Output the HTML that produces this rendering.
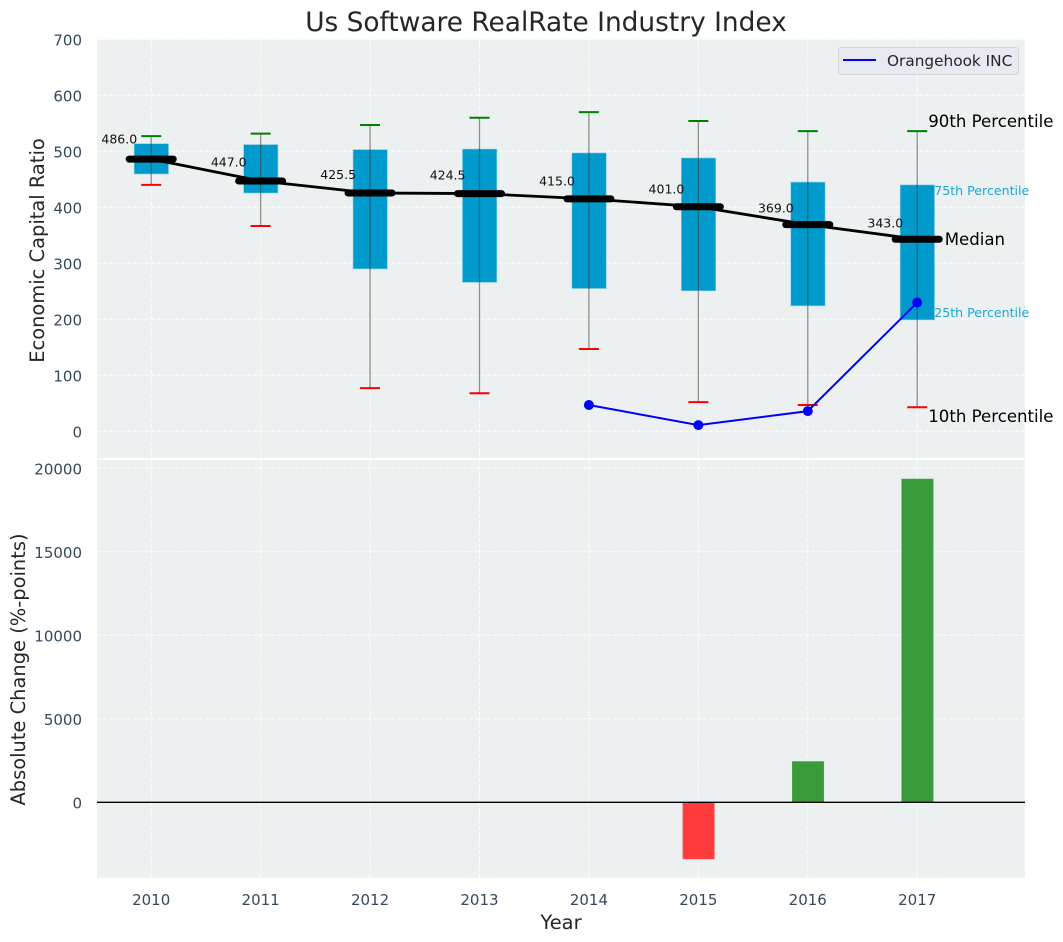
<!DOCTYPE html>
<html>
<head>
<meta charset="utf-8">
<title>Us Software RealRate Industry Index</title>
<style>
html,body{margin:0;padding:0;background:#fff;width:1063px;height:942px;overflow:hidden}
svg{display:block;font-family:"DejaVu Sans","Liberation Sans",sans-serif}
</style>
</head>
<body>
<svg id="chart" xmlns="http://www.w3.org/2000/svg" width="1063" height="942" viewBox="0 0 1063 942">
<rect x="97" y="39.5" width="928" height="418.6" fill="#ecf0f1"/>
<rect x="97" y="459.8" width="928" height="418" fill="#ecf0f1"/>
<text x="546" y="31" text-anchor="middle" font-size="26.4px" fill="#262626">Us Software RealRate Industry Index</text>
<text transform="translate(44,250.5) rotate(-90)" text-anchor="middle" font-size="19.45px" fill="#262626">Economic Capital Ratio</text>
<text transform="translate(25,669.5) rotate(-90)" text-anchor="middle" font-size="19.45px" fill="#262626">Absolute Change (%-points)</text>
<text x="561" y="929" text-anchor="middle" font-size="19.45px" fill="#262626">Year</text>
<g id="layer"></g>
<g>
<rect x="838.5" y="47.5" width="180" height="27" rx="3" fill="#e9e9f1" stroke="#d3d3d8" stroke-width="1"/>
<line x1="843" y1="60" x2="876" y2="60" stroke="#0000ff" stroke-width="2"/>
<text x="887" y="66" font-size="15.3px" fill="#262626">Orangehook INC</text>
</g>
</svg>
<script>
const years = [2010, 2011, 2012, 2013, 2014, 2015, 2016, 2017];
const p90 = [527, 531.5, 547, 560, 570, 554, 536, 536];
const p75 = [513.5, 512, 503, 504, 497, 488, 445, 440];
const medians = [486, 447, 425.5, 424.5, 415, 401, 369, 343];
const p25 = [459.5, 425.5, 290, 266, 255, 251, 224, 199];
const p10 = [440, 366.5, 77, 68, 147, 52, 47, 43];
const companyYears = [2014, 2015, 2016, 2017];
const companyValues = [47, 11, 36, 230];
const changeYears = [2015, 2016, 2017];
const changeValues = [-3395, 2443, 19360];
const topTicks = [0, 100, 200, 300, 400, 500, 600, 700];
const bottomTicks = [0, 5000, 10000, 15000, 20000];

const NS = 'http://www.w3.org/2000/svg';
const layer = document.getElementById('layer');
const xScale = v => 151.2 + (v - 2010) * 109.43;
const yTop = v => 431.3 - v * 0.56;
const yBottom = v => 802.3 - v * 0.0167;

function mk(tag, attrs, text) {
  const el = document.createElementNS(NS, tag);
  for (const k in attrs) el.setAttribute(k, attrs[k]);
  if (text !== undefined) el.textContent = text;
  layer.appendChild(el);
  return el;
}
const gridStyle = {stroke: '#ffffff', 'stroke-width': 1, 'stroke-dasharray': '4 2', opacity: 0.9};
const tickColor = '#34495e';

topTicks.forEach(t => {
  const g = mk('line', Object.assign({x1: 97, x2: 1025, y1: yTop(t), y2: yTop(t)}, gridStyle));
  
  
  const l = mk('text', {x: 82, y: yTop(t) + 6.3, 'text-anchor': 'end', 'font-size': '15px', fill: tickColor}, String(t));
  
  
});
bottomTicks.forEach(t => {
  const g = mk('line', Object.assign({x1: 97, x2: 1025, y1: yBottom(t), y2: yBottom(t)}, gridStyle));
  
  
  const l = mk('text', {x: 82, y: yBottom(t) + 6.3, 'text-anchor': 'end', 'font-size': '15px', fill: tickColor}, String(t));
  
  
});
years.forEach(y => {
  const a = mk('line', Object.assign({x1: xScale(y), x2: xScale(y), y1: 39.5, y2: 458.1}, gridStyle));
  
  
  const b = mk('line', Object.assign({x1: xScale(y), x2: xScale(y), y1: 459.8, y2: 877.8}, gridStyle));
  
  
  const l = mk('text', {x: xScale(y), y: 905, 'text-anchor': 'middle', 'font-size': '15px', fill: tickColor}, String(y));
  
  
});

years.forEach((y, i) => {
  const x = xScale(y);
  const box = mk('rect', {x: x - 17, y: yTop(p75[i]), width: 34.3, height: yTop(p25[i]) - yTop(p75[i]), fill: '#009acd', stroke: '#7fcce6', 'stroke-width': 0.6});
  
  
  const w = mk('line', {x1: x, x2: x, y1: yTop(p90[i]), y2: yTop(p10[i]), stroke: '#3a3a3a', 'stroke-opacity': 0.55, 'stroke-width': 1.3});
  
  
  const hi = mk('line', {x1: x - 10, x2: x + 10, y1: yTop(p90[i]), y2: yTop(p90[i]), stroke: '#008000', 'stroke-width': 2});
  
  
  const lo = mk('line', {x1: x - 10, x2: x + 10, y1: yTop(p10[i]), y2: yTop(p10[i]), stroke: '#ff0000', 'stroke-width': 2});
  
  
});

const medianLine = mk('polyline', {points: years.map((y, i) => xScale(y) + ',' + yTop(medians[i])).join(' '), fill: 'none', stroke: '#000', 'stroke-width': 2.8});



years.forEach((y, i) => {
  const x = xScale(y);
  const m = mk('line', {x1: x - 22, x2: x + 22, y1: yTop(medians[i]), y2: yTop(medians[i]), stroke: '#000', 'stroke-width': 7, 'stroke-linecap': 'round'});
  
  
  const t = mk('text', {x: x - 49.8, y: yTop(medians[i] * 1.05) - 2, 'font-size': '12.5px', fill: '#111'}, medians[i].toFixed(1));
  
  
});

const company = mk('polyline', {points: companyYears.map((y, i) => xScale(y) + ',' + yTop(companyValues[i])).join(' '), fill: 'none', stroke: '#0000ff', 'stroke-width': 2});


companyYears.forEach((y, i) => {
  const c = mk('circle', {cx: xScale(y), cy: yTop(companyValues[i]), r: 5, fill: '#0000ff'});
  
  
});

const last = years.length - 1;
const lastX = xScale(years[last]);
const a90 = mk('text', {x: lastX + 11, y: yTop(p90[last]) - 4, 'font-size': '16.6px', fill: '#000'}, '90th Percentile');


const a75 = mk('text', {x: lastX + 17, y: yTop(p75[last]) + 10, 'font-size': '12.6px', fill: '#1fa6d3'}, '75th Percentile');


const aMed = mk('text', {x: lastX + 27.5, y: yTop(medians[last]) + 6, 'font-size': '16.6px', fill: '#000'}, 'Median');


const a25 = mk('text', {x: lastX + 17, y: yTop(p25[last]) - 3, 'font-size': '12.6px', fill: '#1fa6d3'}, '25th Percentile');


const a10 = mk('text', {x: lastX + 11, y: yTop(p10[last]) + 15, 'font-size': '16.6px', fill: '#000'}, '10th Percentile');



changeYears.forEach((y, i) => {
  const v = changeValues[i];
  const top = Math.min(yBottom(v), yBottom(0));
  const bar = mk('rect', {x: xScale(y) - 15.5, y: top, width: 31.5, height: Math.abs(yBottom(v) - yBottom(0)), fill: v >= 0 ? '#3a9b3c' : '#ff3b3e', stroke: v >= 0 ? '#55a957' : '#ff5a5d', 'stroke-width': 0.6});
  
  
});
const zero = mk('line', {x1: 97, x2: 1025, y1: yBottom(0), y2: yBottom(0), stroke: '#000', 'stroke-width': 1.4});


</script>
</body>
</html>
